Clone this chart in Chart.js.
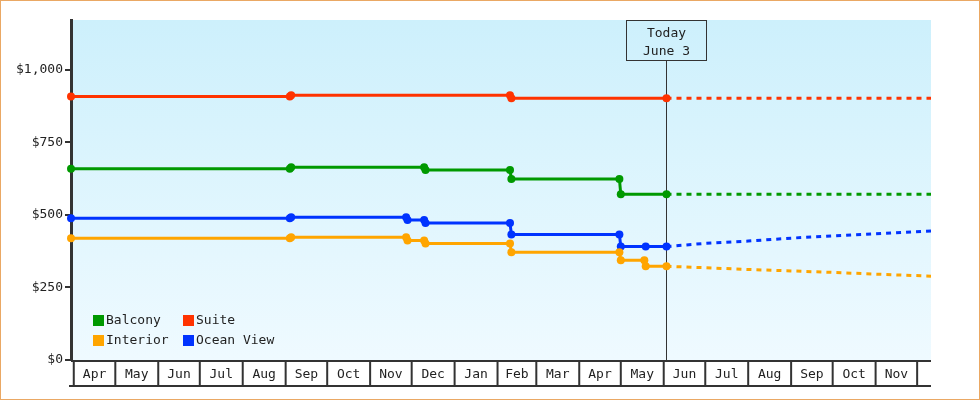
<!DOCTYPE html>
<html>
<head>
<meta charset="utf-8">
<script src="https://cdn.jsdelivr.net/npm/chart.js@4.4.0/dist/chart.umd.min.js"></script>
<style>
  html, body { margin: 0; padding: 0; background: #fff; }
  #wrap { width: 980px; height: 400px; box-sizing: border-box; border: 1px solid #eaa864; }
  canvas { display: block; }
</style>
</head>
<body>
<div id="wrap"><canvas id="fares" width="978" height="398"></canvas></div>
<script>
// cabin fare history + projection

const seriesNames = ['Balcony', 'Suite', 'Interior', 'Ocean View'];
const seriesColors = ['#009900', '#ff3300', '#ffa500', '#0033ff'];

const balconyDates = ['2013-03-30', '2013-09-04', '2013-09-05', '2013-12-10', '2013-12-11', '2014-02-10', '2014-02-11', '2014-04-30', '2014-05-01', '2014-06-03'];
const balconyPrices = [659, 659, 664, 664, 655, 655, 624, 624, 571, 571];

const suiteDates = ['2013-03-30', '2013-09-04', '2013-09-05', '2014-02-10', '2014-02-11', '2014-06-03'];
const suitePrices = [908, 908, 913, 913, 902, 902];

const interiorDates = ['2013-03-30', '2013-09-04', '2013-09-05', '2013-11-27', '2013-11-28', '2013-12-10', '2013-12-11', '2014-02-10', '2014-02-11', '2014-04-30', '2014-05-01', '2014-05-18', '2014-05-19', '2014-06-03'];
const interiorPrices = [420, 420, 423, 423, 412, 412, 402, 402, 371, 371, 344, 344, 323, 323];

const oceanDates = ['2013-03-30', '2013-09-04', '2013-09-05', '2013-11-27', '2013-11-28', '2013-12-10', '2013-12-11', '2014-02-10', '2014-02-11', '2014-04-30', '2014-05-01', '2014-05-19', '2014-06-03'];
const oceanPrices = [489, 489, 492, 492, 483, 483, 472, 472, 433, 433, 391, 391, 391];

// projection (dashed)
const forecastDates = ['2014-06-03', '2014-07-01', '2014-08-01', '2014-09-01', '2014-10-01', '2014-11-01', '2014-12-11'];
const balconyForecast = [571, 571, 571, 571, 571, 571, 571];
const suiteForecast = [902, 902, 902, 902, 902, 902, 902];
const interiorForecast = [323, 318, 312, 307, 302, 296, 289];
const oceanForecast = [391, 402, 410, 420, 428, 435, 445];

const monthLabels = ['Apr', 'May', 'Jun', 'Jul', 'Aug', 'Sep', 'Oct', 'Nov', 'Dec', 'Jan',
                     'Feb', 'Mar', 'Apr', 'May', 'Jun', 'Jul', 'Aug', 'Sep', 'Oct', 'Nov'];
const firstMonth = [2013, 4];
const xStart = '2013-03-30';
const xEnd = '2014-12-11';
const todayDate = '2014-06-03';
const todayText = ['Today', 'June 3'];

const FONT = '13px "DejaVu Sans Mono"';
const INK = '#333';

function day(s) {
    const [y, m, d] = s.split('-').map(Number);
    return Date.UTC(y, m - 1, d) / 86400000;
}
const toPoints = (dates, vals) => dates.map((d, i) => ({ x: day(d), y: vals[i] }));

function histSet(idx, dates, vals) {
    return {
        label: seriesNames[idx],
        data: toPoints(dates, vals),
        borderColor: seriesColors[idx],
        backgroundColor: seriesColors[idx],
        borderWidth: 3,
        pointRadius: 4,
        pointBorderWidth: 0,
        pointBackgroundColor: seriesColors[idx],
        tension: 0,
        clip: false
    };
}
function forecastSet(idx, vals) {
    return {
        label: seriesNames[idx] + ' forecast',
        data: toPoints(forecastDates, vals),
        borderColor: seriesColors[idx],
        borderWidth: 3,
        borderDash: [5, 5],
        pointRadius: 0,
        tension: 0,
        clip: false
    };
}

const bgPlugin = {
    id: 'bg',
    beforeDraw(chart) {
        const { ctx, chartArea: a } = chart;
        const g = ctx.createLinearGradient(0, a.top, 0, a.bottom);
        g.addColorStop(0, '#cdf0fc');
        g.addColorStop(1, '#effaff');
        ctx.save();
        ctx.fillStyle = g;
        ctx.fillRect(a.left, a.top, a.right - a.left, a.bottom - a.top);
        ctx.restore();
    }
};

const monthPlugin = {
    id: 'months',
    afterDraw(chart) {
        const { ctx, chartArea: a } = chart;
        const xs = chart.scales.x;
        const top = a.bottom + 1, bot = a.bottom + 26;
        ctx.save();
        ctx.strokeStyle = INK;
        ctx.lineWidth = 2;
        ctx.beginPath();
        ctx.moveTo(a.left, top); ctx.lineTo(a.right, top);
        ctx.moveTo(a.left - 2, bot); ctx.lineTo(a.right, bot);
        const edges = [];
        for (let i = 0; i <= monthLabels.length; i++) {
            const px = xs.getPixelForValue(Date.UTC(firstMonth[0], firstMonth[1] - 1 + i, 1) / 86400000);
            edges.push(px);
            if (px <= a.right) { ctx.moveTo(px, top); ctx.lineTo(px, bot); }
        }
        ctx.stroke();
        ctx.fillStyle = '#222';
        ctx.font = FONT;
        ctx.textAlign = 'center';
        ctx.textBaseline = 'middle';
        monthLabels.forEach((m, i) => ctx.fillText(m, (edges[i] + edges[i + 1]) / 2, (top + bot) / 2 + 1));
        ctx.restore();
    }
};

const todayPlugin = {
    id: 'today',
    beforeDatasetsDraw(chart) {
        const { ctx, chartArea: a } = chart;
        const px = Math.round(chart.scales.x.getPixelForValue(day(todayDate))) + 0.5;
        const bw = 80, bh = 40, top = a.top + 0.5;
        ctx.save();
        ctx.strokeStyle = INK;
        ctx.lineWidth = 1;
        ctx.strokeRect(px - bw / 2, top, bw, bh);
        ctx.beginPath();
        ctx.moveTo(px, top + bh); ctx.lineTo(px, a.bottom);
        ctx.stroke();
        ctx.fillStyle = '#222';
        ctx.font = FONT;
        ctx.textAlign = 'center';
        ctx.textBaseline = 'middle';
        ctx.fillText(todayText[0], px, top + 13);
        ctx.fillText(todayText[1], px, top + 31);
        ctx.restore();
    }
};

const legendPlugin = {
    id: 'boxLegend',
    afterDatasetsDraw(chart) {
        const { ctx, chartArea: a } = chart;
        ctx.save();
        ctx.font = FONT;
        ctx.textBaseline = 'middle';
        ctx.textAlign = 'left';
        seriesNames.forEach((name, i) => {
            const x = a.left + 22 + (i % 2) * 90;
            const y = a.bottom - 45 + Math.floor(i / 2) * 20;
            ctx.fillStyle = seriesColors[i];
            ctx.fillRect(x, y, 11, 11);
            ctx.fillStyle = '#222';
            ctx.fillText(name, x + 13, y + 6);
        });
        ctx.restore();
    }
};

new Chart(document.getElementById('fares'), {
    type: 'line',
    data: {
        datasets: [
            histSet(0, balconyDates, balconyPrices),
            histSet(1, suiteDates, suitePrices),
            histSet(2, interiorDates, interiorPrices),
            histSet(3, oceanDates, oceanPrices),
            forecastSet(0, balconyForecast),
            forecastSet(1, suiteForecast),
            forecastSet(2, interiorForecast),
            forecastSet(3, oceanForecast)
        ]
    },
    options: {
        responsive: false,
        animation: false,
        events: [],
        layout: { padding: { left: 0, top: 19, right: 48, bottom: 0 } },
        plugins: { legend: { display: false }, tooltip: { enabled: false } },
        scales: {
            x: {
                type: 'linear',
                min: day(xStart),
                max: day(xEnd),
                grid: { display: false },
                border: { display: false },
                ticks: { display: false },
                afterFit: s => { s.height = 39; }
            },
            y: {
                min: 0,
                max: 1172,
                ticks: {
                    stepSize: 250,
                    padding: 2,
                    color: '#222',
                    font: { family: 'DejaVu Sans Mono', size: 13 },
                    callback: v => '$' + v.toLocaleString('en-US')
                },
                afterBuildTicks: s => { s.ticks = s.ticks.filter(t => t.value % 250 === 0); },
                grid: { drawOnChartArea: false, color: INK, lineWidth: 2, tickLength: 6 },
                border: { display: true, color: INK, width: 3 },
                afterFit: s => { s.width = 70; }
            }
        }
    },
    plugins: [bgPlugin, monthPlugin, todayPlugin, legendPlugin]
});
</script>
</body>
</html>
